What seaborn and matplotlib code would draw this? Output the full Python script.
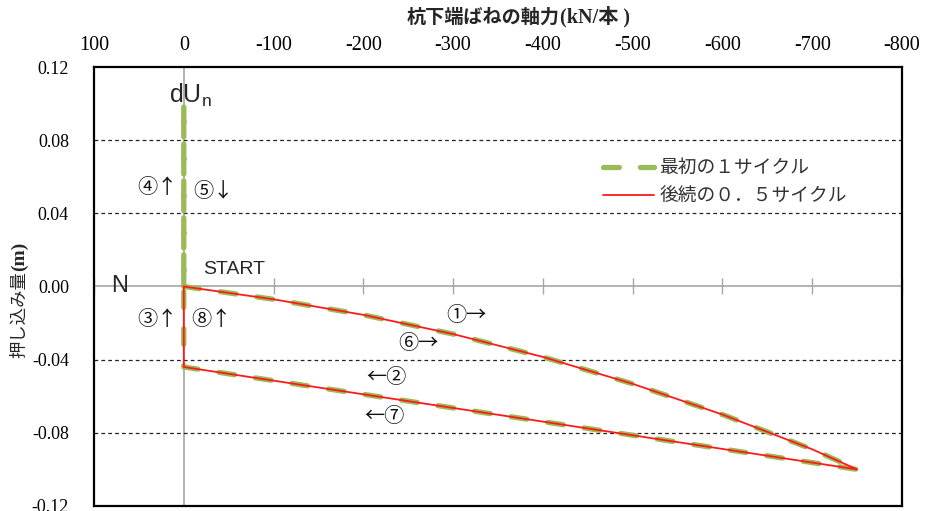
import matplotlib
matplotlib.use("Agg")
import matplotlib.pyplot as plt
import seaborn as sns
import pandas as pd

# Upper branch of the loop: axial force N (kN) vs. push-in displacement (m)
upper_force = [0, -100, -200, -300, -400, -500, -600, -700, -750]
upper_disp = [0.0, -0.0070, -0.0155, -0.0260, -0.0385, -0.0532, -0.0700, -0.0890, -0.100]
# Unloading branch end point at N = 0
unload_force = [0]
unload_disp = [-0.044]
# Vertical excursion at N = 0 during the first cycle
peak_disp = 0.100

first_force = upper_force + unload_force + [0, 0]
first_disp = upper_disp + unload_disp + [peak_disp, 0.0]
second_force = upper_force + unload_force + [0]
second_disp = upper_disp + unload_disp + [0.0]

x_ticks = [100, 0, -100, -200, -300, -400, -500, -600, -700, -800]
y_ticks = [0.12, 0.08, 0.04, 0.00, -0.04, -0.08, -0.12]
grid_levels = [0.08, 0.04, -0.04, -0.08]

GREEN = "#9BBB59"
RED = "#FF1A1A"
GRAY = "#A6A6A6"

sns.set_theme(style="white")
plt.rcParams["font.family"] = ["Noto Sans CJK JP", "DejaVu Sans"]

fig = plt.figure(figsize=(9.25, 5.11), dpi=100)
ax = fig.add_axes([94 / 925, 1 - 506 / 511, 808 / 925, 439 / 511])

# reference lines
ax.axvline(0, color=GRAY, lw=1.2, zorder=1)
for g in grid_levels:
    ax.axhline(g, color="#222222", lw=0.9, ls=(0, (3, 2.5)), zorder=1)

df1 = pd.DataFrame({"N": first_force, "U": first_disp})
df2 = pd.DataFrame({"N": second_force, "U": second_disp})
sns.lineplot(data=df1, x="N", y="U", sort=False, estimator=None, ax=ax,
             color=GREEN, lw=3.8, linestyle=(0, (3.0, 4.0)),
             dash_capstyle="round", label="最初の１サイクル", zorder=3)
sns.lineplot(data=df2, x="N", y="U", sort=False, estimator=None, ax=ax,
             color=RED, lw=1.3, label="後続の０．５サイクル", zorder=4)

ax.set_xlim(100, -800)
ax.set_ylim(-0.12, 0.12)
ax.set_xticks(x_ticks)
ax.set_yticks(y_ticks)
ax.set_xticklabels([f"{v:d}" for v in x_ticks], family="Liberation Serif", fontsize=14.5)
ax.set_yticklabels([f"{v:.2f}" for v in y_ticks], family="Liberation Serif", fontsize=13)
ax.xaxis.tick_top()
ax.tick_params(axis="x", length=0, pad=9, colors="black")
ax.tick_params(axis="y", length=0, pad=18, colors="black")
ax.set_xlabel("")
ax.set_ylabel("")

for s in ax.spines.values():
    s.set_visible(True)
    s.set_color("black")
    s.set_linewidth(1.6)

# gray axis through y = 0 with tick marks
sec = ax.secondary_xaxis(0.5)
sec.set_xticks(x_ticks)
sec.tick_params(axis="x", direction="inout", length=11, width=1.0, color=GRAY,
                labelbottom=False, labeltop=False)
for s in sec.spines.values():
    s.set_color(GRAY)
    s.set_linewidth(1.2)

# axis titles
fig.text(560 / 925, 1 - 17 / 511, "杭下端ばねの軸力", fontsize=13.8, fontweight="bold",
         ha="right", va="center")
fig.text(560 / 925, 1 - 17 / 511, "(kN/本 )", fontsize=14.5, fontweight="bold",
         ha="left", va="center", family=["Liberation Serif", "Noto Sans CJK JP"])
fig.text(19 / 925, 1 - 271 / 511, "押し込み量", fontsize=12.5, rotation=90,
         ha="center", va="top")
fig.text(19 / 925, 1 - 271 / 511, "(m)", fontsize=14, fontweight="bold", rotation=90,
         ha="center", va="bottom", family=["Liberation Serif", "Noto Sans CJK JP"])

# annotations
ax.text(-7, 0.1047, "dU$_\\mathregular{n}$", fontsize=18, family="Liberation Sans",
        ha="center", va="center")
ax.text(72, 0.0, "N", fontsize=17, family="Liberation Sans", ha="center", va="center")
ax.text(-21, 0.0093, "START", fontsize=14, family="Liberation Sans", ha="left", va="center")
notes = [
    (29.8, 0.0539, "④↑"), (-32.5, 0.0522, "⑤↓"),
    (29.8, -0.0178, "③↑"), (-30.3, -0.0178, "⑧↑"),
    (-315, -0.0156, "①→"), (-261, -0.0309, "⑥→"),
    (-226, -0.0500, "←②"), (-223, -0.0713, "←⑦"),
]
for nx, ny, t in notes:
    ax.text(nx, ny, t, fontsize=14.5, ha="center", va="center", color="#111111")

leg = ax.legend(loc="upper left", bbox_to_anchor=(590 / 925, 1 - 144 / 511),
                bbox_transform=fig.transFigure, frameon=False, fontsize=13.5,
                handlelength=2.7, handletextpad=0.3, labelspacing=0.4,
                borderpad=0.2)
for t in leg.get_texts():
    t.set_color("#333333")

fig.savefig("out.png", dpi=100)
